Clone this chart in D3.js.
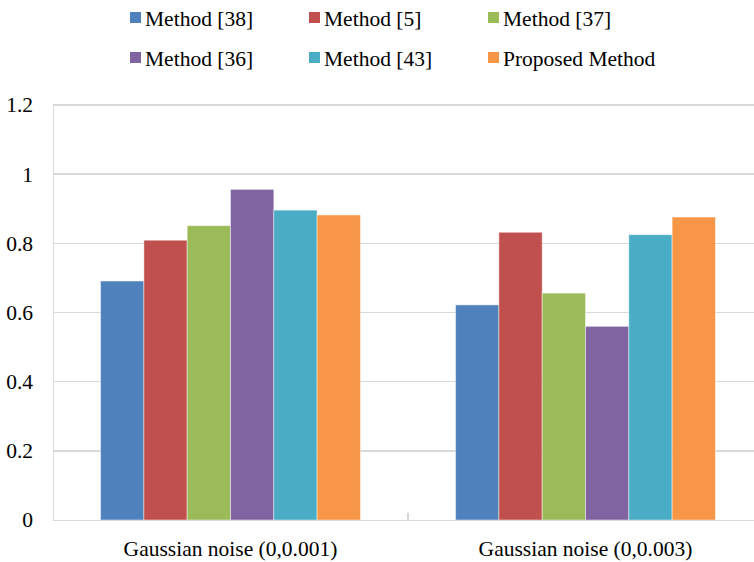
<!DOCTYPE html>
<html>
<head>
  <meta charset="utf-8">
  <title>Gaussian noise comparison</title>
  <style>
    body { margin: 0; background: #fff; }
    svg text { font-family: "Liberation Serif", "Times New Roman", serif; font-size: 21.5px; fill: #000; }
    .grid line { stroke: #d9d9d9; stroke-width: 1.5; shape-rendering: crispEdges; }
    .axis path, .axis line { stroke: #d9d9d9; stroke-width: 1.5; fill: none; shape-rendering: crispEdges; }
  </style>
  <script src="https://d3js.org/d3.v7.min.js"></script>
</head>
<body>
  <script>
    // data
    var categories = ['Gaussian noise (0,0.001)', 'Gaussian noise (0,0.003)'];
    var methods = ['Method [38]', 'Method [5]', 'Method [37]', 'Method [36]', 'Method [43]', 'Proposed Method'];
    var colors = ['#4f81bd', '#c0504d', '#9bbb59', '#8064a2', '#4bacc6', '#f79646'];
    var method38 = [0.691, 0.622];
    var method5 = [0.809, 0.832];
    var method37 = [0.851, 0.656];
    var method36 = [0.956, 0.560];
    var method43 = [0.896, 0.825];
    var proposed = [0.882, 0.876];
    var yTicks = [0, 0.2, 0.4, 0.6, 0.8, 1, 1.2];

    var series = [method38, method5, method37, method36, method43, proposed];

    var width = 754, height = 562;
    var svg = d3.select('body').append('svg')
      .attr('width', width)
      .attr('height', height);

    // plot area (right side runs a bit past the canvas, like the original)
    var plotLeft = 53, plotRight = 763, plotTop = 105, plotBottom = 520;

    var y = d3.scaleLinear().domain([0, 1.2]).range([plotBottom, plotTop]);
    var x0 = d3.scaleBand().domain(categories).range([plotLeft, plotRight]);
    var gap = x0.bandwidth() * 0.134;
    var x1 = d3.scaleBand().domain(d3.range(methods.length))
      .range([gap, x0.bandwidth() - gap]);

    // gridlines
    svg.append('g').attr('class', 'grid')
      .selectAll('line')
      .data(yTicks.slice(1))
      .enter().append('line')
      .attr('x1', plotLeft).attr('x2', plotRight)
      .attr('y1', function(d) { return y(d); })
      .attr('y2', function(d) { return y(d); });

    // y axis
    var yAxis = svg.append('g').attr('class', 'axis')
      .attr('transform', 'translate(' + plotLeft + ',0)')
      .call(d3.axisLeft(y).tickValues(yTicks).tickSize(0).tickPadding(20).tickFormat(d3.format('')));
    yAxis.selectAll('text').attr('font-size', null).attr('font-family', null);

    // bars
    var groups = svg.selectAll('.cat')
      .data(categories)
      .enter().append('g')
      .attr('class', 'cat')
      .attr('transform', function(d) { return 'translate(' + x0(d) + ',0)'; });

    groups.selectAll('rect')
      .data(function(d, ci) { return series.map(function(s, si) { return { si: si, v: s[ci] }; }); })
      .enter().append('rect')
      .attr('x', function(d) { return x1(d.si); })
      .attr('y', function(d) { return y(d.v); })
      .attr('width', x1.bandwidth())
      .attr('height', function(d) { return plotBottom - y(d.v); })
      .attr('fill', function(d) { return colors[d.si]; })
      .attr('stroke', 'rgba(255,255,255,0.45)')
      .attr('stroke-width', 1);

    // x axis
    var xAxis = svg.append('g').attr('class', 'axis')
      .attr('transform', 'translate(0,' + plotBottom + ')')
      .call(d3.axisBottom(x0).tickSize(0).tickPadding(21));
    xAxis.selectAll('text').attr('font-size', null).attr('font-family', null);
    // category separator ticks
    svg.append('g').attr('class', 'axis')
      .selectAll('line')
      .data(categories.slice(1))
      .enter().append('line')
      .attr('x1', function(d) { return x0(d); })
      .attr('x2', function(d) { return x0(d); })
      .attr('y1', plotBottom - 7).attr('y2', plotBottom);

    // legend
    var legend = svg.append('g').selectAll('g')
      .data(methods)
      .enter().append('g')
      .attr('transform', function(d, i) {
        return 'translate(' + (130 + (i % 3) * 179) + ',' + (12 + Math.floor(i / 3) * 40) + ')';
      });
    legend.append('rect')
      .attr('width', 11).attr('height', 11)
      .attr('fill', function(d, i) { return colors[i]; });
    legend.append('text')
      .attr('x', 15).attr('y', 14)
      .text(function(d) { return d; });
  </script>
</body>
</html>
